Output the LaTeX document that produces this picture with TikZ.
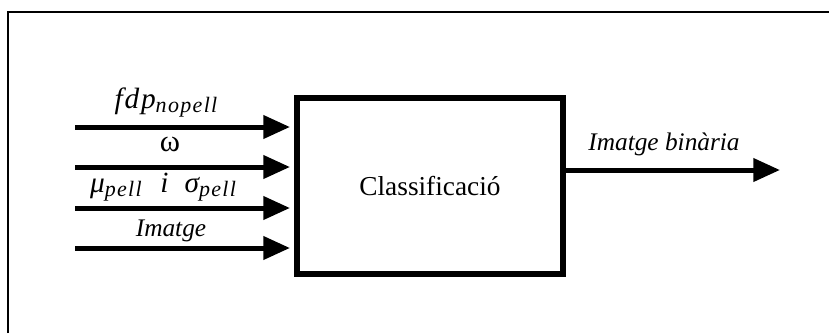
\documentclass[tikz,border=0pt]{standalone}
\usepackage{fontspec}
\setmainfont{Liberation Serif}
\usetikzlibrary{arrows.meta}
\newfontfamily\mathlike[LetterSpace=6]{Liberation Serif}
% italic symbol with a lowered, smaller subscript
\newcommand\lowsub[1]{\raisebox{-0.35ex}{\fontsize{16.5}{16.5}\selectfont\mathlike\itshape #1}}
\newcommand\symb[1]{{\fontsize{22}{22}\selectfont\mathlike\itshape #1}}

\begin{document}
\begin{tikzpicture}[x=0.75pt,y=-0.75pt,
  flow/.style={line width=3.75pt,-{Triangle[length=20pt,width=17pt]}},
  lab/.style={anchor=base,inner sep=0pt,font=\fontsize{19}{19}\selectfont\itshape},
  block/.style={draw,line width=4.5pt,outer sep=0pt,minimum width=199.5pt,
    minimum height=132pt,inner sep=0pt,font=\fontsize{20.5}{20.5}\selectfont}]
\useasboundingbox (0,0) rectangle (829,333);
% page frame
\draw[line width=0.9pt] (8,333) -- (8,12) -- (829,12);

% processing block
\node[block] (cls) at (430,186) {Classificació};

% input and output ends
\coordinate (s1) at (75,127);
\coordinate (s2) at (75,167);
\coordinate (s3) at (75,208);
\coordinate (s4) at (75,248);
\coordinate (o) at (780,170);

\foreach \s in {s1,s2,s3,s4}
  \draw[flow,shorten >=5.25pt] (\s) -- (\s -| cls.west);
\draw[flow] (cls.east |- o) -- (o);

% labels
\node[lab] (l1) at (166,108) {\symb{fdp}\lowsub{nopell}};
\node[lab,font=\fontsize{23}{23}\selectfont] (l2) at (170,151) {ω};
\node[lab] (l3) at (163,192) {\symb{μ}\lowsub{pell}\hspace{14pt}\symb{i}\hspace{12pt}\symb{σ}\lowsub{pell}};
\node[lab] (l4) at (171,236) {Imatge};
\node[lab] (l5) at (664,150) {Imatge binària};
\end{tikzpicture}
\end{document}
